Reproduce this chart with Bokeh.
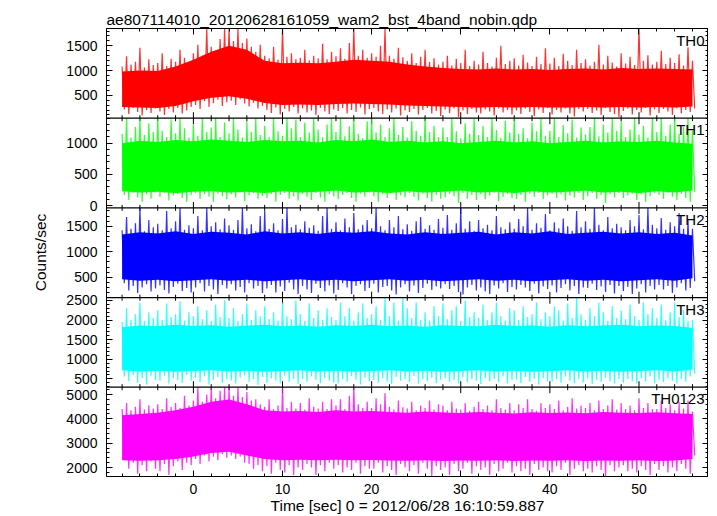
import json
import numpy as np
from bokeh.plotting import figure
from bokeh.models import (Range1d, LinearAxis, Label, SingleIntervalTicker, FixedTicker,
                          ColumnDataSource, CustomJSTickFormatter, Span)
from bokeh.embed import file_html
from bokeh.resources import INLINE

# ---------------- data ----------------
title_text = "ae807114010_20120628161059_wam2_bst_4band_nobin.qdp"
x_label = "Time [sec] 0 = 2012/06/28 16:10:59.887"
y_label = "Counts/sec"
band_names = ["TH0", "TH1", "TH2", "TH3", "TH0123"]
band_colors = ["#ff0000", "#00ff00", "#0000ff", "#00ffff", "#ff00ff"]
y_limits = [(34, 1852), (-38, 1400), (98, 1860), (288, 2571), (1633, 5300)]
y_tick_step = [500, 500, 500, 500, 1000]
x_limits = (-9.75, 57.8)

# 0.5 s bins from -8 s to 56 s: peak (hi) and trough (lo) of each bin
time_sec = np.round(-8.0 + 0.5 * np.arange(129), 2)
# dense core of the curve, every 2 s from -8 s to 56 s
body_time = np.round(-8.0 + 2.0 * np.arange(33), 2)

th0_hi = [1080,1290,1120,1180,1460,1060,1230,1110,
          1150,1350,1090,1240,1180,1420,1260,1150,
          1350,1520,1300,1850,1480,1400,1640,1850,
          1850,1600,1850,1560,1650,1480,1380,1520,
          1300,1250,1480,1220,1850,1280,1350,1230,
          1260,1420,1210,1300,1250,1540,1230,1380,
          1290,1450,1240,1560,1850,1300,1420,1260,
          1350,1280,1500,1850,1300,1240,1460,1270,
          1200,1350,1150,1280,1420,1170,1250,1120,
          1180,1300,1100,1240,1150,1420,1090,1200,
          1120,1380,1150,1080,1260,1500,1130,1200,
          1250,1100,1320,1160,1090,1280,1130,1450,
          1140,1260,1090,1340,1200,1110,1420,1150,
          1230,1100,1180,1520,1120,1300,1160,1080,
          1350,1140,1280,1110,1850,1200,1310,1120,
          1180,1400,1130,1260,1150,1330,1100,1470,
          1200]
th0_lo = [210,120,240,160,90,200,140,230,
          170,100,220,150,240,130,190,260,
          300,220,380,260,340,410,280,360,
          390,300,420,330,270,350,230,280,
          200,140,250,110,220,170,260,130,
          230,150,190,100,240,170,120,210,
          180,240,130,200,160,250,110,220,
          240,170,120,210,150,230,90,190,
          160,220,110,200,240,130,180,80,
          210,140,230,60,190,120,220,150,
          130,210,170,90,230,150,200,110,
          190,120,230,160,80,210,140,240,
          110,200,150,230,130,70,220,170,
          220,140,190,100,240,160,120,60,
          180,230,110,200,150,240,90,210,
          140,220,170,100,230,130,200,160,
          230]
th0_body_hi = [980,1000,990,1080,1220,1380,1500,1420,1200,1150,1160,1150,1180,1220,1200,1180,
               1120,1080,1050,1030,1020,1040,1020,1030,1010,1030,1040,1020,1050,1030,1040,1030,1020]
th0_body_lo = [260,250,240,280,380,450,480,430,340,300,310,300,320,330,320,310,
               290,280,270,260,250,260,250,260,250,250,260,250,260,250,260,250,270]

th1_hi = [1150,1400,1090,1260,1400,1130,1320,1180,
          1400,1200,1100,1380,1160,1400,1240,1090,
          1300,1120,1400,1180,1250,1400,1100,1330,
          1160,1400,1220,1090,1350,1180,1400,1130,
          1280,1100,1400,1190,1120,1400,1240,1380,
          1100,1330,1170,1400,1220,1090,1300,1400,
          1180,1400,1110,1270,1400,1150,1080,1350,
          1400,1170,1300,1100,1240,1400,1130,1260,
          1090,1350,1200,1120,1400,1180,1280,1100,
          1250,1100,1400,1190,1080,1320,1150,1400,
          1130,1280,1100,1400,1210,1090,1360,1170,
          1400,1150,1240,1080,1330,1190,1400,1120,
          1200,1400,1100,1290,1160,1380,1090,1250,
          1140,1260,1400,1110,1300,1170,1400,1200,
          1350,1100,1220,1400,1140,1280,1090,1400,
          1180,1400,1120,1300,1400,1150,1260,1400,
          1200]
th1_lo = [170,90,200,130,60,180,110,210,
          140,200,80,160,190,120,60,170,
          200,110,180,140,60,190,150,100,
          180,130,210,70,160,200,100,150,
          120,190,60,170,200,110,150,80,
          190,140,90,200,130,60,180,150,
          100,170,200,120,60,190,140,210,
          150,60,180,120,200,90,160,130,
          200,140,80,190,120,60,170,110,
          130,190,150,40,200,110,170,90,
          180,100,160,200,70,140,190,120,
          110,170,60,190,140,200,100,160,
          190,120,180,80,160,130,200,90,
          150,200,110,170,40,180,130,200,
          120,160,190,90,180,60,150,200,
          170,110,200,140,90,190,120,60,
          220]
th1_body_hi = [1000,1040,1020,1050,1030,1060,1040,1020,1050,1030,1040,1010,1050,1030,1060,1020,
               1040,1010,1030,1000,1020,1040,1010,1030,1000,1020,1040,1010,1030,1020,1040,1010,990]
th1_body_lo = [230,210,220,200,220,230,210,220,200,230,210,220,240,210,220,200,
               230,210,220,240,210,220,200,230,210,220,240,210,220,200,230,210,240]

th2_hi = [1420,1680,1450,1560,1860,1400,1620,1480,
          1550,1420,1800,1460,1600,1860,1430,1520,
          1460,1700,1420,1860,1500,1580,1440,1650,
          1520,1430,1620,1860,1460,1540,1400,1700,
          1800,1450,1560,1420,1640,1860,1480,1530,
          1440,1600,1470,1520,1410,1700,1860,1450,
          1580,1420,1650,1480,1760,1440,1530,1620,
          1460,1860,1500,1420,1620,1480,1700,1440,
          1540,1410,1600,1680,1450,1520,1430,1640,
          1470,1720,1430,1560,1860,1450,1600,1410,
          1620,1460,1530,1420,1700,1480,1440,1580,
          1450,1640,1500,1860,1430,1560,1470,1740,
          1420,1580,1460,1650,1500,1410,1800,1480,
          1600,1450,1860,1530,1420,1680,1460,1550,
          1480,1420,1620,1500,1720,1440,1860,1530,
          1460,1660,1430,1580,1500,1760,1450,1620,
          1450]
th2_lo = [380,240,330,190,300,360,220,280,
          340,250,180,310,370,230,290,200,
          300,380,220,330,260,170,350,280,
          360,240,310,200,380,280,330,190,
          280,350,200,320,230,390,260,170,
          330,260,190,370,290,220,340,180,
          250,380,300,170,330,360,230,290,
          370,200,310,330,240,160,300,360,
          220,340,190,290,370,250,320,280,
          360,270,330,210,160,300,350,240,
          300,220,170,340,280,380,210,310,
          260,350,300,230,370,180,320,270,
          340,200,290,360,240,330,170,300,
          290,370,250,320,210,350,180,330,
          230,310,170,280,360,200,330,260,
          350,260,330,190,300,380,240,290,
          420]
th2_body_hi = [1340,1380,1360,1400,1350,1390,1370,1340,1400,1360,1380,1350,1390,1370,1400,1360,
               1340,1380,1350,1370,1390,1340,1380,1360,1400,1350,1370,1390,1360,1380,1350,1370,1320]
th2_body_lo = [460,430,450,420,440,460,430,450,420,440,460,430,450,420,440,460,
               430,450,420,440,460,430,450,420,440,460,430,450,420,440,460,430,480]

th3_hi = [1950,2300,2000,2150,2450,1980,2200,2050,
          2250,2000,2420,2080,2150,2480,1990,2200,
          2100,2350,2020,2250,1980,2400,2080,2500,
          2050,2300,1980,2150,2420,2000,2250,2100,
          2350,2030,2200,1990,2450,2100,2020,2500,
          2150,1980,2420,2050,2250,2000,2300,2080,
          2000,2450,2100,2300,1980,2200,2420,2050,
          2150,2350,2000,2571,2100,2450,1990,2571,
          2300,2050,2450,2000,2200,1990,2350,2100,
          2420,2020,2250,2350,1980,2500,2080,2200,
          2050,2400,2000,2200,2450,2100,1990,2300,
          2250,2000,2350,2080,2150,2450,2020,2200,
          2100,2350,2250,1990,2420,2050,2571,2150,
          2000,2300,2100,2450,2200,1980,2350,2050,
          2250,2020,2400,2100,2000,2450,2150,2300,
          2050,2400,2000,2200,2450,2080,2250,1980,
          2000]
th3_lo = [560,440,600,400,520,360,580,470,
          450,580,380,520,470,400,600,450,
          520,420,570,360,480,550,400,500,
          460,380,530,590,420,490,350,550,
          400,510,460,380,580,430,500,370,
          490,420,560,470,390,520,450,410,
          380,500,430,570,480,360,530,440,
          470,400,510,430,370,550,450,500,
          420,570,380,490,440,530,390,480,
          510,430,470,380,540,410,490,450,
          370,520,440,500,420,570,380,470,
          480,390,550,430,500,360,520,440,
          430,500,400,560,450,390,490,410,
          510,370,480,430,530,440,380,500,
          400,490,440,380,510,430,570,390,
          480,420,520,450,380,500,430,560,
          640]
th3_body_hi = [1820,1860,1840,1880,1850,1870,1830,1860,1880,1840,1860,1830,1870,1850,1880,1840,
               1860,1830,1870,1850,1840,1880,1850,1860,1830,1870,1840,1860,1880,1840,1860,1850,1800]
th3_body_lo = [720,690,710,680,700,720,690,710,680,700,720,690,710,680,700,720,
               690,710,680,700,720,690,710,680,700,720,690,710,680,700,720,690,740]

th0123_hi = [4400,4650,4350,4500,4800,4380,4560,4420,
             4600,4400,4850,4500,4650,4450,4950,4550,
             4750,5300,4700,5000,5300,4850,5150,5300,
             5300,4950,5300,4900,5100,4750,4800,4600,
             4500,4800,4400,4550,5300,4450,4700,4420,
             4650,4380,4850,4500,4420,4700,4400,4800,
             4550,4800,4400,4950,5300,4600,4450,4700,
             4450,4850,4600,5050,4500,4380,4750,4480,
             4420,4700,4350,4550,4450,4750,4380,4600,
             4550,4350,4700,4420,4380,4650,4330,4500,
             4700,4400,4550,4350,4800,4450,4380,4650,
             4350,4600,4450,4800,4400,4330,4650,4450,
             4600,4400,4750,4350,4500,4850,4420,4550,
             4450,4650,4350,4750,4400,4550,4800,4380,
             4650,4400,4550,4350,4850,4450,4650,4400,
             4400,4750,4450,4600,4350,4700,4420,4750,
             4300]
th0123_lo = [2500,1950,2200,1750,2100,1850,2250,1950,
             1850,2150,1700,2050,2250,1900,2200,2100,
             2350,2150,2500,2250,2450,2300,2550,2400,
             2500,2350,2450,2200,2150,1950,2100,1850,
             2050,1750,2200,1900,1800,2100,1700,2000,
             1900,2150,2000,1700,2100,1850,2200,1950,
             2100,1800,2000,1900,2200,1750,2050,1950,
             1950,2200,1800,2050,1900,1700,2150,2000,
             1850,2100,1750,2200,1950,1650,2050,1900,
             2000,1700,2150,1850,1950,2200,1750,2050,
             1900,2000,1700,2150,1850,1950,2200,1800,
             2050,1850,1950,1700,2150,1900,2000,1850,
             1800,2050,1900,2200,1700,1950,2100,1850,
             1950,1800,2050,1900,1650,2100,1850,2000,
             2100,1850,1950,1800,2050,1900,1700,2150,
             1900,2050,1800,2000,1850,2150,1950,1750,
             2500]
th0123_body_hi = [4150,4200,4250,4350,4500,4700,4800,4600,4350,4300,4320,4280,4350,4300,4320,4280,
                  4250,4300,4260,4240,4280,4250,4220,4270,4240,4260,4230,4280,4250,4240,4270,4230,4200]
th0123_body_lo = [2300,2280,2300,2350,2450,2600,2650,2500,2350,2300,2320,2300,2320,2300,2310,2290,
                  2280,2300,2270,2290,2280,2300,2270,2290,2280,2300,2270,2290,2280,2300,2270,2290,2350]

spike_hi = [th0_hi, th1_hi, th2_hi, th3_hi, th0123_hi]
spike_lo = [th0_lo, th1_lo, th2_lo, th3_lo, th0123_lo]
body_hi = [th0_body_hi, th1_body_hi, th2_body_hi, th3_body_hi, th0123_body_hi]
body_lo = [th0_body_lo, th1_body_lo, th2_body_lo, th3_body_lo, th0123_body_lo]

# ---------------- layout / styling ----------------
FONT = "Liberation Sans"
FRAME_W, FRAME_H = 602, 448
# panel edges in frame pixels, measured from the bottom of the stack
EDGES = [448.0, 358.3, 268.6, 178.8, 89.3, 0.0]
MAJ, MIN = 6, 3

p = figure(frame_width=FRAME_W, frame_height=FRAME_H, x_range=Range1d(*x_limits),
           y_range=Range1d(0, FRAME_H), output_backend="svg", toolbar_location=None,
           x_axis_location=None, y_axis_location=None,
           min_border_left=106, min_border_right=0, min_border_top=28, min_border_bottom=0,
           background_fill_color="white", border_fill_color="white")
p.outline_line_color = "black"
p.outline_line_width = 1
p.grid.visible = False

p.title.text = title_text
p.title.align = "left"
p.title.text_font = FONT
p.title.text_font_size = "15.5px"
p.title.text_font_style = "normal"
p.title.text_color = "black"
p.title.standoff = 1
p.title.offset = 0

major_pos, minor_pos, major_lab = [], [], []
for i in range(5):
    top, bot = EDGES[i], EDGES[i + 1]
    lo, hi = y_limits[i]
    k = (hi - lo) / (top - bot)
    p.extra_y_ranges[f"p{i}"] = Range1d(lo - bot * k, hi + (FRAME_H - top) * k)
    step = y_tick_step[i]
    for v in np.arange(np.ceil(lo / step) * step, hi + 1e-9, step):
        major_pos.append(float(bot + (v - lo) / k))
        major_lab.append(str(int(v)))
    for v in np.arange(np.ceil(lo / (step / 5)) * (step / 5), hi + 1e-9, step / 5):
        if abs(v / step - round(v / step)) > 1e-9:
            minor_pos.append(float(bot + (v - lo) / k))

label_code = ("const P = %s, L = %s; let b = 0, d = 1e9;"
              "for (let j = 0; j < P.length; j++) { const e = Math.abs(P[j] - tick);"
              " if (e < d) { d = e; b = j; } } return L[b];") % (json.dumps(major_pos), json.dumps(major_lab))


def style_axis(ax):
    ax.major_tick_in = MAJ
    ax.major_tick_out = 0
    ax.minor_tick_in = MIN
    ax.minor_tick_out = 0
    ax.axis_line_color = "black"
    ax.major_tick_line_color = "black"
    ax.minor_tick_line_color = "black"
    ax.major_label_text_font = FONT
    ax.major_label_text_font_size = "14px"
    ax.major_label_text_color = "black"
    ax.axis_label_text_font = FONT
    ax.axis_label_text_font_style = "normal"
    ax.axis_label_text_font_size = "15.5px"
    ax.axis_label_text_color = "black"


def blank_axis(ax):
    style_axis(ax)
    ax.formatter = CustomJSTickFormatter(code="return ''")
    ax.major_label_text_font_size = "0px"
    ax.major_label_standoff = 0


yl = LinearAxis(ticker=FixedTicker(ticks=major_pos, minor_ticks=minor_pos),
                formatter=CustomJSTickFormatter(code=label_code))
style_axis(yl)
yl.major_label_standoff = 9
yl.axis_label = y_label
yl.axis_label_standoff = 14
p.add_layout(yl, "left")

yr = LinearAxis(ticker=FixedTicker(ticks=major_pos, minor_ticks=minor_pos))
blank_axis(yr)
p.add_layout(yr, "right")

xt = LinearAxis(ticker=SingleIntervalTicker(interval=10, num_minor_ticks=5))
blank_axis(xt)
p.add_layout(xt, "above")

xb = LinearAxis(ticker=SingleIntervalTicker(interval=10, num_minor_ticks=5))
style_axis(xb)
xb.major_label_standoff = 7
xb.axis_label = x_label
xb.axis_label_standoff = 0
p.add_layout(xb, "below")

# inner panel borders with their time ticks on both sides
x_major = [float(v) for v in range(-10, 60, 10) if x_limits[0] <= v <= x_limits[1]]
x_minor = [float(v) for v in range(-8, 58, 2) if v % 10 != 0]
for e in EDGES[1:-1]:
    p.add_layout(Span(location=e, dimension="width", line_color="black", line_width=1.2))
tx, ty0, ty1 = [], [], []
for e in EDGES[1:-1]:
    for v in x_major:
        tx.append(v); ty0.append(e - MAJ); ty1.append(e + MAJ)
    for v in x_minor:
        tx.append(v); ty0.append(e - MIN); ty1.append(e + MIN)
p.segment(x0="x", y0="y0", x1="x", y1="y1", line_color="black", line_width=1,
          source=ColumnDataSource(dict(x=tx, y0=ty0, y1=ty1)))

# the light curves
for i in range(5):
    col = band_colors[i]
    rn = f"p{i}"
    p.varea(x="t", y1="lo", y2="hi", fill_color=col, fill_alpha=1.0, y_range_name=rn,
            source=ColumnDataSource(dict(t=body_time, lo=body_lo[i], hi=body_hi[i])))
    zx, zy = [], []
    for t, a, b in zip(time_sec, spike_hi[i], spike_lo[i]):
        zx += [float(t), float(t) + 0.25]
        zy += [a, b]
    p.line(x="x", y="y", line_color=col, line_width=1.2, line_alpha=0.8, line_join="bevel",
           y_range_name=rn, source=ColumnDataSource(dict(x=zx, y=zy)))
    p.add_layout(Label(x=x_limits[1], y=y_limits[i][1], x_offset=-4, y_offset=-3,
                       y_range_name=rn, text=band_names[i], text_align="right",
                       text_baseline="top", text_font=FONT, text_font_size="15px",
                       text_color="black"))

open("out.html", "w").write(file_html(p, INLINE))
